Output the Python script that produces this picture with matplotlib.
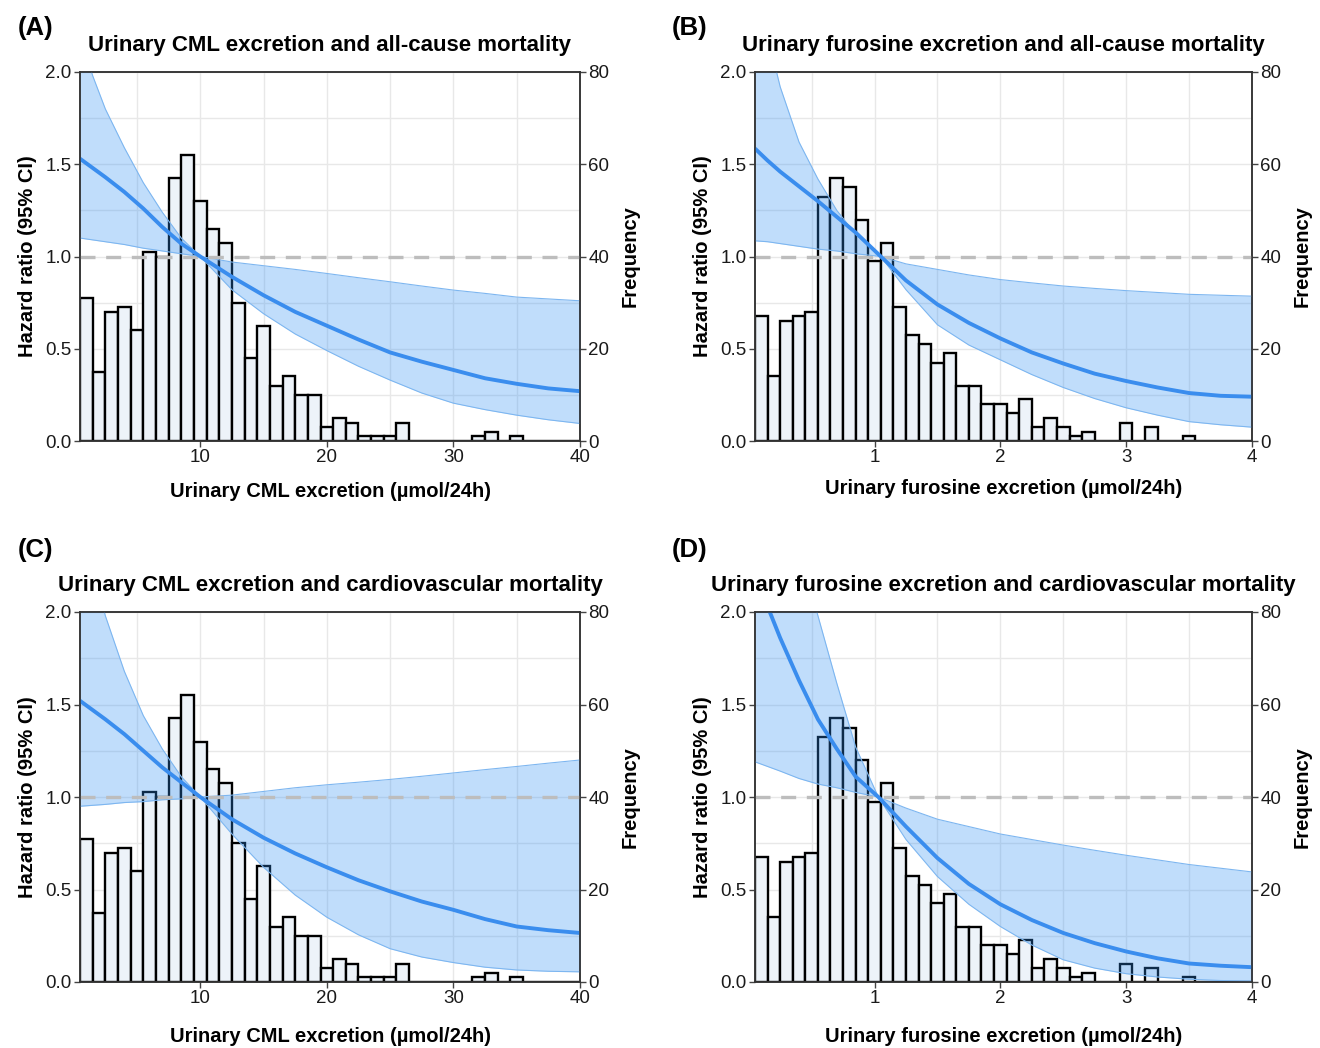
import numpy as np
import matplotlib.pyplot as plt
from matplotlib.ticker import FormatStrFormatter, MultipleLocator

plt.rcParams['font.family'] = ['Liberation Sans', 'DejaVu Sans']

# ---- histogramas (frequência por classe) ----
cml_bins = np.arange(1, 41)                      # centro das classes, largura 1
cml_freq = [31, 15, 28, 29, 24, 41, 40, 57, 62, 52, 46, 43, 30, 18, 25, 12, 14, 10, 10, 3,
            5, 4, 1, 1, 1, 4, 0, 0, 0, 0, 0, 1, 2, 0, 1, 0, 0, 0, 0, 0]

fur_bins = np.round(np.arange(1, 41) * 0.1, 1)   # centro das classes, largura 0.1
fur_freq = [27, 14, 26, 27, 28, 53, 57, 55, 48, 39, 43, 29, 23, 21, 17, 19, 12, 12, 8, 8,
            6, 9, 3, 5, 3, 1, 2, 0, 0, 4, 0, 3, 0, 0, 1, 0, 0, 0, 0, 0]

# ---- curvas de hazard ratio ----
cml_x = [0.5, 1.5, 2.5, 4, 5.5, 7, 8.5, 10, 12.5, 15, 17.5, 20, 22.5, 25, 27.5, 30, 32.5, 35, 37.5, 40]

a_hr = [1.53, 1.48, 1.43, 1.35, 1.26, 1.16, 1.07, 1.0, 0.89, 0.79, 0.70, 0.625, 0.55, 0.48,
        0.43, 0.385, 0.34, 0.31, 0.285, 0.27]
a_hi = [2.2, 1.98, 1.80, 1.59, 1.40, 1.24, 1.10, 1.0, 0.97, 0.95, 0.93, 0.908, 0.885, 0.863,
        0.84, 0.818, 0.80, 0.78, 0.77, 0.76]
a_lo = [1.10, 1.09, 1.08, 1.065, 1.045, 1.03, 1.015, 1.0, 0.82, 0.69, 0.58, 0.49, 0.405, 0.33,
        0.26, 0.205, 0.17, 0.14, 0.115, 0.095]

c_hr = [1.52, 1.47, 1.42, 1.34, 1.25, 1.16, 1.08, 1.0, 0.88, 0.78, 0.695, 0.62, 0.55, 0.49,
        0.435, 0.39, 0.34, 0.30, 0.28, 0.265]
c_hi = [2.6, 2.25, 1.98, 1.68, 1.44, 1.26, 1.11, 1.0, 1.01, 1.03, 1.05, 1.066, 1.08, 1.095,
        1.112, 1.13, 1.148, 1.165, 1.183, 1.20]
c_lo = [0.95, 0.955, 0.96, 0.97, 0.975, 0.985, 0.99, 1.0, 0.80, 0.62, 0.47, 0.35, 0.255, 0.18,
        0.135, 0.105, 0.08, 0.065, 0.058, 0.055]

fur_x_b = [0.05, 0.15, 0.25, 0.4, 0.55, 0.7, 0.85, 1.05, 1.25, 1.5, 1.75, 2.0, 2.25, 2.5,
           2.75, 3.0, 3.25, 3.5, 3.75, 4.0]
b_hr = [1.585, 1.52, 1.46, 1.38, 1.30, 1.215, 1.13, 1.0, 0.87, 0.74, 0.64, 0.556, 0.48, 0.42,
        0.365, 0.325, 0.29, 0.26, 0.245, 0.24]
b_hi = [2.5, 2.2, 1.92, 1.62, 1.42, 1.25, 1.12, 1.0, 0.96, 0.93, 0.90, 0.875, 0.857, 0.84,
        0.827, 0.815, 0.805, 0.795, 0.79, 0.785]
b_lo = [1.085, 1.08, 1.07, 1.055, 1.04, 1.03, 1.015, 1.0, 0.82, 0.63, 0.52, 0.44, 0.36, 0.29,
        0.23, 0.18, 0.14, 0.105, 0.088, 0.075]

fur_x_d = [0.05, 0.15, 0.25, 0.4, 0.55, 0.7, 0.85, 1.03, 1.25, 1.5, 1.75, 2.0, 2.25, 2.5,
           2.75, 3.0, 3.25, 3.5, 3.75, 4.0]
d_hr = [2.25, 2.03, 1.86, 1.63, 1.42, 1.26, 1.11, 1.0, 0.84, 0.67, 0.53, 0.42, 0.335, 0.265,
        0.21, 0.165, 0.128, 0.10, 0.088, 0.08]
d_hi = [3.4, 3.1, 2.8, 2.35, 1.98, 1.615, 1.27, 1.0, 0.94, 0.88, 0.84, 0.80, 0.77, 0.74,
        0.712, 0.685, 0.66, 0.635, 0.615, 0.595]
d_lo = [1.19, 1.165, 1.14, 1.10, 1.07, 1.05, 1.025, 1.0, 0.77, 0.57, 0.42, 0.30, 0.20, 0.12,
        0.075, 0.045, 0.027, 0.015, 0.008, 0.005]

W, H = 1320, 1048

BAR_FILL = '#EDF3F9'
BAND = '#2F8FF5'
LINE = '#3A8DEE'


def draw_panel(rect, letter, title, xlabel, bins, freq, width, xlim, xmajor, xminor,
               fx, hr, lo, hi, letter_pos, xpad):
    ax_f = fig.add_axes(rect)
    ax_h = ax_f.twinx()

    # frequência fica no eixo da direita, HR no da esquerda
    ax_f.yaxis.tick_right()
    ax_f.yaxis.set_label_position('right')
    ax_h.yaxis.tick_left()
    ax_h.yaxis.set_label_position('left')

    ax_f.bar(bins, freq, width=width, color=BAR_FILL, edgecolor='black', linewidth=1.7, zorder=2)
    ax_f.set_ylim(0, 80)
    ax_f.set_xlim(*xlim)
    ax_f.yaxis.set_major_locator(MultipleLocator(20))
    ax_f.yaxis.set_minor_locator(MultipleLocator(10))
    ax_f.xaxis.set_major_locator(MultipleLocator(xmajor))
    ax_f.xaxis.set_minor_locator(MultipleLocator(xminor))
    ax_f.grid(which='both', color='#E8E8E8', linewidth=1.0, zorder=0)
    ax_f.set_axisbelow(True)
    ax_f.tick_params(which='minor', length=0)
    ax_f.tick_params(which='major', length=4, width=1, color='#444444',
                     labelsize=13.5, labelcolor='#1a1a1a', pad=2)
    ax_f.set_ylabel('Frequency', fontsize=14.5, fontweight='bold', labelpad=8)
    ax_f.set_xlabel(xlabel, fontsize=14.5, fontweight='bold', labelpad=xpad)

    ax_h.fill_between(fx, lo, hi, color=BAND, alpha=0.3, linewidth=0)
    ax_h.plot(fx, hi, color='#7DB6F0', linewidth=0.8)
    ax_h.plot(fx, lo, color='#7DB6F0', linewidth=0.8)
    ax_h.axhline(1.0, color='#BDBDBD', linewidth=2.4, dashes=(4.5, 3.2))
    ax_h.plot(fx, hr, color=LINE, linewidth=2.8, solid_capstyle='butt')
    ax_h.set_ylim(0, 2)
    ax_h.set_xlim(*xlim)
    ax_h.yaxis.set_major_locator(MultipleLocator(0.5))
    ax_h.yaxis.set_major_formatter(FormatStrFormatter('%.1f'))
    ax_h.tick_params(length=4, width=1, color='#444444', labelsize=13.5,
                     labelcolor='#1a1a1a', pad=2)
    ax_h.set_ylabel('Hazard ratio (95% CI)', fontsize=14.5, fontweight='bold', labelpad=6)

    for ax in (ax_f, ax_h):
        for sp in ax.spines.values():
            sp.set_color('#333333')
            sp.set_linewidth(1.1)

    # título e letra do painel
    x0, y0, w, h = rect
    fig.text(x0 + w / 2, y0 + h + 21 / H, title, ha='center', va='baseline',
             fontsize=16, fontweight='bold')
    fig.text(letter_pos[0] / W, 1 - letter_pos[1] / H, letter, ha='left', va='center',
             fontsize=18.5, fontweight='bold')


fig = plt.figure(figsize=(W / 100, H / 100), dpi=100)

draw_panel([80 / W, 1 - 441 / H, 500 / W, 369 / H], '(A)',
           'Urinary CML excretion and all-cause mortality', 'Urinary CML excretion (µmol/24h)',
           cml_bins, cml_freq, 1.0, (0.5, 40), 10, 5, cml_x, a_hr, a_lo, a_hi, (18, 28), 11)

draw_panel([755 / W, 1 - 441 / H, 497 / W, 369 / H], '(B)',
           'Urinary furosine excretion and all-cause mortality', 'Urinary furosine excretion (µmol/24h)',
           fur_bins, fur_freq, 0.1, (0.05, 4), 1, 0.5, fur_x_b, b_hr, b_lo, b_hi, (672, 28), 9)

draw_panel([80 / W, 1 - 982 / H, 500 / W, 370 / H], '(C)',
           'Urinary CML excretion and cardiovascular mortality', 'Urinary CML excretion (µmol/24h)',
           cml_bins, cml_freq, 1.0, (0.5, 40), 10, 5, cml_x, c_hr, c_lo, c_hi, (18, 550), 14)

draw_panel([755 / W, 1 - 982 / H, 497 / W, 370 / H], '(D)',
           'Urinary furosine excretion and cardiovascular mortality', 'Urinary furosine excretion (µmol/24h)',
           fur_bins, fur_freq, 0.1, (0.05, 4), 1, 0.5, fur_x_d, d_hr, d_lo, d_hi, (672, 550), 14)

fig.savefig('out.png', dpi=100)
